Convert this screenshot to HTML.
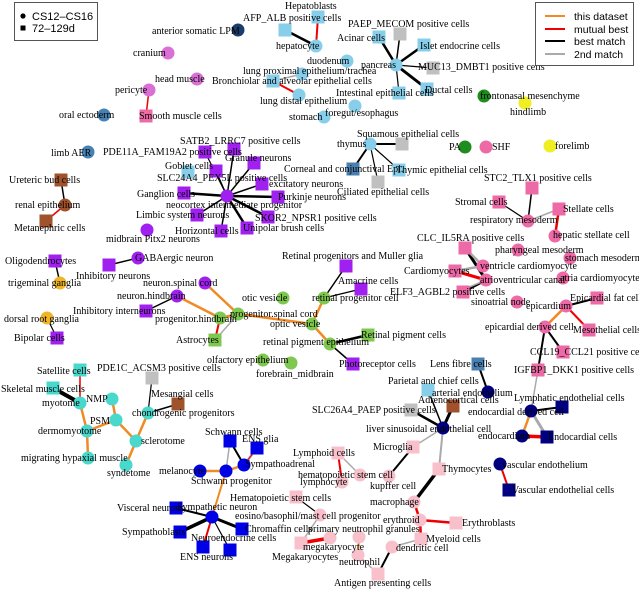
<!DOCTYPE html>
<html><head><meta charset="utf-8"><style>
html,body{margin:0;padding:0;background:#fff;}
svg{display:block;font-family:"Liberation Serif",serif;font-size:10px;}
.l{font-family:"Liberation Sans",sans-serif;font-size:11px;}
.r{font-family:"Liberation Sans",sans-serif;font-size:10.5px;}
</style></head><body>
<svg width="639" height="590" viewBox="0 0 639 590" xmlns="http://www.w3.org/2000/svg">
<g stroke-linecap="round" fill="none">
<line x1="316" y1="46" x2="285" y2="30" stroke="#000" stroke-width="2.5"/>
<line x1="316" y1="46" x2="318" y2="17" stroke="#e00" stroke-width="2"/>
<line x1="273" y1="81" x2="302" y2="74" stroke="#aaa" stroke-width="1.5"/>
<line x1="273" y1="81" x2="299" y2="95" stroke="#e00" stroke-width="2"/>
<line x1="396" y1="65" x2="379" y2="37" stroke="#000" stroke-width="2.5"/>
<line x1="396" y1="65" x2="400" y2="34" stroke="#000" stroke-width="1.5"/>
<line x1="396" y1="65" x2="424" y2="45" stroke="#000" stroke-width="2.5"/>
<line x1="396" y1="65" x2="433" y2="68" stroke="#000" stroke-width="1.2"/>
<line x1="396" y1="65" x2="427" y2="89" stroke="#000" stroke-width="3"/>
<line x1="396" y1="65" x2="399" y2="93" stroke="#000" stroke-width="1.2"/>
<line x1="370" y1="144" x2="402" y2="144" stroke="#000" stroke-width="2"/>
<line x1="370" y1="144" x2="353" y2="169" stroke="#000" stroke-width="2"/>
<line x1="370" y1="144" x2="399" y2="170" stroke="#000" stroke-width="1.2"/>
<line x1="370" y1="144" x2="378" y2="182" stroke="#000" stroke-width="1.2"/>
<line x1="149" y1="90" x2="146" y2="116" stroke="#e00" stroke-width="1.5"/>
<line x1="61" y1="180" x2="65" y2="205" stroke="#000" stroke-width="1.5"/>
<line x1="65" y1="205" x2="46" y2="221" stroke="#e00" stroke-width="1.5"/>
<g stroke="#000">
<line x1="227" y1="196" x2="234" y2="149" stroke-width="1.5"/>
<line x1="227" y1="196" x2="205" y2="152" stroke-width="1.2"/>
<line x1="227" y1="196" x2="254" y2="163" stroke-width="1.5"/>
<line x1="227" y1="196" x2="216" y2="171" stroke-width="1.2"/>
<line x1="227" y1="196" x2="262" y2="184" stroke-width="1.5"/>
<line x1="227" y1="196" x2="184" y2="193" stroke-width="2.5"/>
<line x1="227" y1="196" x2="278" y2="197" stroke-width="2.5"/>
<line x1="227" y1="196" x2="197" y2="215" stroke-width="1.5"/>
<line x1="227" y1="196" x2="268" y2="217" stroke-width="2.5"/>
<line x1="227" y1="196" x2="221" y2="231" stroke-width="1.5"/>
<line x1="227" y1="196" x2="247" y2="228" stroke-width="2.5"/>
</g>
<line x1="55" y1="261" x2="60" y2="283" stroke="#000" stroke-width="1.5"/>
<line x1="109" y1="265" x2="138" y2="258" stroke="#000" stroke-width="1.5"/>
<line x1="47" y1="318" x2="57" y2="338" stroke="#000" stroke-width="1.2"/>
<line x1="205" y1="283" x2="238" y2="314" stroke="#f08a24" stroke-width="2.5"/>
<line x1="177" y1="296" x2="220" y2="318" stroke="#f08a24" stroke-width="2.5"/>
<line x1="177" y1="296" x2="146" y2="311" stroke="#000" stroke-width="1.5"/>
<line x1="220" y1="318" x2="238" y2="314" stroke="#f08a24" stroke-width="2.5"/>
<line x1="220" y1="318" x2="215" y2="340" stroke="#e00" stroke-width="2"/>
<line x1="238" y1="314" x2="215" y2="340" stroke="#aaa" stroke-width="1.5"/>
<line x1="238" y1="314" x2="312" y2="324" stroke="#f08a24" stroke-width="2.5"/>
<line x1="312" y1="324" x2="324" y2="298" stroke="#f08a24" stroke-width="2.5"/>
<line x1="312" y1="324" x2="330" y2="344" stroke="#f08a24" stroke-width="2.5"/>
<line x1="324" y1="298" x2="346" y2="266" stroke="#000" stroke-width="1.5"/>
<line x1="324" y1="298" x2="361" y2="289" stroke="#000" stroke-width="1.2"/>
<line x1="330" y1="344" x2="368" y2="335" stroke="#000" stroke-width="2.5"/>
<line x1="330" y1="344" x2="353" y2="364" stroke="#000" stroke-width="1.5"/>
<line x1="528" y1="221" x2="532" y2="188" stroke="#000" stroke-width="1.5"/>
<line x1="528" y1="221" x2="499" y2="202" stroke="#000" stroke-width="1.2"/>
<line x1="528" y1="221" x2="559" y2="209" stroke="#aaa" stroke-width="1.5"/>
<line x1="559" y1="209" x2="555" y2="236" stroke="#e00" stroke-width="2.5"/>
<line x1="465" y1="248" x2="486" y2="280" stroke="#000" stroke-width="3"/>
<line x1="465" y1="248" x2="483" y2="266" stroke="#aaa" stroke-width="2.5"/>
<line x1="455" y1="271" x2="483" y2="266" stroke="#aaa" stroke-width="2.5"/>
<line x1="455" y1="271" x2="486" y2="280" stroke="#e00" stroke-width="3"/>
<line x1="463" y1="292" x2="486" y2="280" stroke="#000" stroke-width="2.5"/>
<line x1="467" y1="288" x2="486" y2="280" stroke="#aaa" stroke-width="1.5"/>
<line x1="566" y1="306" x2="597" y2="298" stroke="#000" stroke-width="2"/>
<line x1="566" y1="306" x2="589" y2="330" stroke="#e00" stroke-width="2"/>
<line x1="566" y1="306" x2="545" y2="327" stroke="#f08a24" stroke-width="2.5"/>
<line x1="545" y1="327" x2="563" y2="352" stroke="#000" stroke-width="2"/>
<line x1="545" y1="327" x2="538" y2="370" stroke="#000" stroke-width="2"/>
<line x1="538" y1="370" x2="531" y2="411" stroke="#aaa" stroke-width="1.5"/>
<line x1="531" y1="411" x2="562" y2="407" stroke="#000" stroke-width="2"/>
<line x1="531" y1="411" x2="522" y2="436" stroke="#f08a24" stroke-width="2.5"/>
<line x1="531" y1="411" x2="547" y2="437" stroke="#aaa" stroke-width="3"/>
<line x1="522" y1="436" x2="547" y2="437" stroke="#e00" stroke-width="3.5"/>
<line x1="500" y1="464" x2="509" y2="490" stroke="#e00" stroke-width="2"/>
<line x1="478" y1="364" x2="488" y2="392" stroke="#000" stroke-width="2"/>
<line x1="443" y1="428" x2="428" y2="390" stroke="#000" stroke-width="1.5"/>
<line x1="443" y1="428" x2="453" y2="406" stroke="#000" stroke-width="3"/>
<line x1="443" y1="428" x2="411" y2="410" stroke="#000" stroke-width="2.5"/>
<line x1="443" y1="428" x2="413" y2="447" stroke="#aaa" stroke-width="1.5"/>
<line x1="443" y1="428" x2="439" y2="469" stroke="#aaa" stroke-width="2"/>
<line x1="413" y1="447" x2="389" y2="476" stroke="#000" stroke-width="2"/>
<line x1="439" y1="469" x2="414" y2="502" stroke="#000" stroke-width="3.5"/>
<line x1="414" y1="502" x2="420" y2="520" stroke="#e00" stroke-width="2.5"/>
<line x1="420" y1="520" x2="456" y2="523" stroke="#e00" stroke-width="2.5"/>
<line x1="420" y1="520" x2="421" y2="539" stroke="#e00" stroke-width="2.5"/>
<line x1="421" y1="539" x2="392" y2="547" stroke="#aaa" stroke-width="1.5"/>
<line x1="392" y1="547" x2="378" y2="574" stroke="#000" stroke-width="2"/>
<line x1="358" y1="555" x2="378" y2="574" stroke="#aaa" stroke-width="1.5"/>
<line x1="359" y1="537" x2="358" y2="555" stroke="#f08a24" stroke-width="2"/>
<line x1="301" y1="543" x2="330" y2="538" stroke="#e00" stroke-width="3.5"/>
<line x1="296" y1="497" x2="320" y2="515" stroke="#000" stroke-width="1.2"/>
<line x1="320" y1="515" x2="301" y2="543" stroke="#aaa" stroke-width="1.5"/>
<line x1="338" y1="453" x2="342" y2="482" stroke="#e00" stroke-width="2"/>
<line x1="338" y1="453" x2="360" y2="475" stroke="#aaa" stroke-width="1.5"/>
<line x1="80" y1="370" x2="80" y2="403" stroke="#e00" stroke-width="1.5"/>
<line x1="53" y1="388" x2="80" y2="403" stroke="#000" stroke-width="4"/>
<g stroke="#f08a24" stroke-width="2.5">
<line x1="80" y1="403" x2="87" y2="431"/>
<line x1="112" y1="399" x2="116" y2="420"/>
<line x1="116" y1="420" x2="87" y2="431"/>
<line x1="87" y1="431" x2="88" y2="458"/>
<line x1="116" y1="420" x2="136" y2="441"/>
<line x1="136" y1="441" x2="126" y2="465"/>
<line x1="136" y1="441" x2="148" y2="413"/>
</g>
<line x1="148" y1="413" x2="152" y2="378" stroke="#000" stroke-width="1.2"/>
<line x1="148" y1="413" x2="178" y2="404" stroke="#000" stroke-width="1.5"/>
<line x1="230" y1="441" x2="226" y2="471" stroke="#aaa" stroke-width="1.5"/>
<line x1="230" y1="441" x2="244" y2="465" stroke="#000" stroke-width="2"/>
<line x1="257" y1="448" x2="244" y2="465" stroke="#aaa" stroke-width="2.5"/>
<line x1="257" y1="448" x2="244" y2="465" stroke="#e00" stroke-width="1"/>
<line x1="200" y1="471" x2="226" y2="471" stroke="#f08a24" stroke-width="2.5"/>
<line x1="226" y1="471" x2="244" y2="465" stroke="#f08a24" stroke-width="2.5"/>
<line x1="226" y1="471" x2="212" y2="517" stroke="#f08a24" stroke-width="2"/>
<line x1="212" y1="517" x2="176" y2="508" stroke="#000" stroke-width="2"/>
<line x1="212" y1="517" x2="180" y2="532" stroke="#000" stroke-width="3.5"/>
<line x1="212" y1="517" x2="242" y2="529" stroke="#000" stroke-width="3"/>
<line x1="212" y1="517" x2="230" y2="550" stroke="#000" stroke-width="1.2"/>
<line x1="212" y1="517" x2="203" y2="547" stroke="#e00" stroke-width="2"/>
</g>

<g>
<circle cx="238" cy="30" r="6.5" fill="#1c3c6b"/>
<circle cx="168" cy="53" r="6.5" fill="#da70d6"/>
<circle cx="197" cy="79" r="6.5" fill="#da70d6"/>
<circle cx="149" cy="90" r="6.5" fill="#da70d6"/>
<circle cx="104" cy="115" r="6.5" fill="#4682b4"/>
<circle cx="88" cy="152" r="6.5" fill="#4682b4"/>
<circle cx="65" cy="205" r="6.5" fill="#a0522d"/>
<circle cx="316" cy="46" r="6.5" fill="#87ceeb"/>
<circle cx="347" cy="61" r="6.5" fill="#87ceeb"/>
<circle cx="302" cy="74" r="6.5" fill="#87ceeb"/>
<circle cx="299" cy="95" r="6.5" fill="#87ceeb"/>
<circle cx="324" cy="117" r="6.5" fill="#87ceeb"/>
<circle cx="355" cy="106" r="6.5" fill="#87ceeb"/>
<circle cx="396" cy="65" r="6.5" fill="#87ceeb"/>
<circle cx="370" cy="144" r="6.5" fill="#87ceeb"/>
<circle cx="484" cy="96" r="6.5" fill="#1e8c1e"/>
<circle cx="465" cy="147" r="6.5" fill="#1e8c1e"/>
<circle cx="525" cy="103" r="6.5" fill="#eeee22"/>
<circle cx="550" cy="146" r="6.5" fill="#eeee22"/>
<circle cx="486" cy="147" r="6.5" fill="#ee6aa7"/>
<circle cx="227" cy="196" r="6.5" fill="#a020f0"/>
<circle cx="147" cy="230" r="6.5" fill="#a020f0"/>
<circle cx="138" cy="258" r="6.5" fill="#a020f0"/>
<circle cx="205" cy="283" r="6.5" fill="#a020f0"/>
<circle cx="177" cy="296" r="6.5" fill="#a020f0"/>
<circle cx="60" cy="283" r="6.5" fill="#f0b429"/>
<circle cx="47" cy="318" r="6.5" fill="#f0b429"/>
<circle cx="220" cy="318" r="6.5" fill="#7ec850"/>
<circle cx="238" cy="314" r="6.5" fill="#7ec850"/>
<circle cx="283" cy="298" r="6.5" fill="#7ec850"/>
<circle cx="312" cy="324" r="6.5" fill="#7ec850"/>
<circle cx="324" cy="298" r="6.5" fill="#7ec850"/>
<circle cx="330" cy="344" r="6.5" fill="#7ec850"/>
<circle cx="263" cy="360" r="6.5" fill="#7ec850"/>
<circle cx="291" cy="363" r="6.5" fill="#7ec850"/>
<circle cx="528" cy="221" r="6.5" fill="#ee6aa7"/>
<circle cx="555" cy="236" r="6.5" fill="#ee6aa7"/>
<circle cx="518" cy="250" r="6.5" fill="#ee6aa7"/>
<circle cx="570" cy="258" r="6.5" fill="#ee6aa7"/>
<circle cx="483" cy="266" r="6.5" fill="#ee6aa7"/>
<circle cx="486" cy="280" r="6.5" fill="#ee6aa7"/>
<circle cx="563" cy="278" r="6.5" fill="#ee6aa7"/>
<circle cx="517" cy="302" r="6.5" fill="#ee6aa7"/>
<circle cx="566" cy="306" r="6.5" fill="#ee6aa7"/>
<circle cx="545" cy="327" r="6.5" fill="#ee6aa7"/>
<circle cx="488" cy="392" r="6.5" fill="#000080"/>
<circle cx="443" cy="428" r="6.5" fill="#000080"/>
<circle cx="531" cy="411" r="6.5" fill="#000080"/>
<circle cx="522" cy="436" r="6.5" fill="#000080"/>
<circle cx="500" cy="464" r="6.5" fill="#000080"/>
<circle cx="389" cy="476" r="6.5" fill="#f8c0cb"/>
<circle cx="414" cy="502" r="6.5" fill="#f8c0cb"/>
<circle cx="420" cy="520" r="6.5" fill="#f8c0cb"/>
<circle cx="392" cy="547" r="6.5" fill="#f8c0cb"/>
<circle cx="358" cy="555" r="6.5" fill="#f8c0cb"/>
<circle cx="359" cy="537" r="6.5" fill="#f8c0cb"/>
<circle cx="330" cy="538" r="6.5" fill="#f8c0cb"/>
<circle cx="320" cy="515" r="6.5" fill="#f8c0cb"/>
<circle cx="360" cy="475" r="6.5" fill="#f8c0cb"/>
<circle cx="342" cy="482" r="6.5" fill="#f8c0cb"/>
<circle cx="80" cy="403" r="6.5" fill="#48d8cc"/>
<circle cx="112" cy="399" r="6.5" fill="#48d8cc"/>
<circle cx="116" cy="420" r="6.5" fill="#48d8cc"/>
<circle cx="87" cy="431" r="6.5" fill="#48d8cc"/>
<circle cx="88" cy="458" r="6.5" fill="#48d8cc"/>
<circle cx="136" cy="441" r="6.5" fill="#48d8cc"/>
<circle cx="126" cy="465" r="6.5" fill="#48d8cc"/>
<circle cx="148" cy="413" r="6.5" fill="#48d8cc"/>
<circle cx="244" cy="465" r="6.5" fill="#0000e6"/>
<circle cx="200" cy="471" r="6.5" fill="#0000e6"/>
<circle cx="226" cy="471" r="6.5" fill="#0000e6"/>
<circle cx="212" cy="517" r="6.5" fill="#0000e6"/>
</g>
<g>
<rect x="278.5" y="23.5" width="13" height="13" fill="#87ceeb"/>
<rect x="311.5" y="10.5" width="13" height="13" fill="#87ceeb"/>
<rect x="266.5" y="74.5" width="13" height="13" fill="#87ceeb"/>
<rect x="372.5" y="30.5" width="13" height="13" fill="#87ceeb"/>
<rect x="393.5" y="27.5" width="13" height="13" fill="#c0c0c0"/>
<rect x="417.5" y="38.5" width="13" height="13" fill="#87ceeb"/>
<rect x="426.5" y="61.5" width="13" height="13" fill="#c0c0c0"/>
<rect x="420.5" y="82.5" width="13" height="13" fill="#87ceeb"/>
<rect x="392.5" y="86.5" width="13" height="13" fill="#87ceeb"/>
<rect x="395.5" y="137.5" width="13" height="13" fill="#c0c0c0"/>
<rect x="346.5" y="162.5" width="13" height="13" fill="#4a7fb0"/>
<rect x="392.5" y="163.5" width="13" height="13" fill="#87ceeb"/>
<rect x="371.5" y="175.5" width="13" height="13" fill="#c0c0c0"/>
<rect x="139.5" y="109.5" width="13" height="13" fill="#ee6aa7"/>
<rect x="54.5" y="173.5" width="13" height="13" fill="#a0522d"/>
<rect x="39.5" y="214.5" width="13" height="13" fill="#a0522d"/>
<rect x="227.5" y="142.5" width="13" height="13" fill="#a020f0"/>
<rect x="198.5" y="145.5" width="13" height="13" fill="#a020f0"/>
<rect x="247.5" y="156.5" width="13" height="13" fill="#a020f0"/>
<rect x="181.5" y="165.5" width="13" height="13" fill="#87ceeb"/>
<rect x="209.5" y="164.5" width="13" height="13" fill="#a020f0"/>
<rect x="255.5" y="177.5" width="13" height="13" fill="#a020f0"/>
<rect x="177.5" y="186.5" width="13" height="13" fill="#a020f0"/>
<rect x="271.5" y="190.5" width="13" height="13" fill="#a020f0"/>
<rect x="190.5" y="208.5" width="13" height="13" fill="#a020f0"/>
<rect x="261.5" y="210.5" width="13" height="13" fill="#a020f0"/>
<rect x="214.5" y="224.5" width="13" height="13" fill="#a020f0"/>
<rect x="240.5" y="221.5" width="13" height="13" fill="#a020f0"/>
<rect x="48.5" y="254.5" width="13" height="13" fill="#a020f0"/>
<rect x="102.5" y="258.5" width="13" height="13" fill="#a020f0"/>
<rect x="139.5" y="304.5" width="13" height="13" fill="#a020f0"/>
<rect x="50.5" y="331.5" width="13" height="13" fill="#a020f0"/>
<rect x="208.5" y="333.5" width="13" height="13" fill="#7ec850"/>
<rect x="339.5" y="259.5" width="13" height="13" fill="#a020f0"/>
<rect x="354.5" y="282.5" width="13" height="13" fill="#a020f0"/>
<rect x="361.5" y="328.5" width="13" height="13" fill="#7ec850"/>
<rect x="346.5" y="357.5" width="13" height="13" fill="#a020f0"/>
<rect x="525.5" y="181.5" width="13" height="13" fill="#ee6aa7"/>
<rect x="492.5" y="195.5" width="13" height="13" fill="#ee6aa7"/>
<rect x="552.5" y="202.5" width="13" height="13" fill="#ee6aa7"/>
<rect x="458.5" y="241.5" width="13" height="13" fill="#ee6aa7"/>
<rect x="448.5" y="264.5" width="13" height="13" fill="#ee6aa7"/>
<rect x="456.5" y="285.5" width="13" height="13" fill="#ee6aa7"/>
<rect x="590.5" y="291.5" width="13" height="13" fill="#ee6aa7"/>
<rect x="582.5" y="323.5" width="13" height="13" fill="#ee6aa7"/>
<rect x="556.5" y="345.5" width="13" height="13" fill="#ee6aa7"/>
<rect x="531.5" y="363.5" width="13" height="13" fill="#ee6aa7"/>
<rect x="471.5" y="357.5" width="13" height="13" fill="#4a7fb0"/>
<rect x="421.5" y="383.5" width="13" height="13" fill="#87ceeb"/>
<rect x="446.5" y="399.5" width="13" height="13" fill="#a0522d"/>
<rect x="404.5" y="403.5" width="13" height="13" fill="#c0c0c0"/>
<rect x="555.5" y="400.5" width="13" height="13" fill="#000080"/>
<rect x="540.5" y="430.5" width="13" height="13" fill="#000080"/>
<rect x="502.5" y="483.5" width="13" height="13" fill="#000080"/>
<rect x="406.5" y="440.5" width="13" height="13" fill="#f8c0cb"/>
<rect x="432.5" y="462.5" width="13" height="13" fill="#f8c0cb"/>
<rect x="449.5" y="516.5" width="13" height="13" fill="#f8c0cb"/>
<rect x="414.5" y="532.5" width="13" height="13" fill="#f8c0cb"/>
<rect x="371.5" y="567.5" width="13" height="13" fill="#f8c0cb"/>
<rect x="294.5" y="536.5" width="13" height="13" fill="#f8c0cb"/>
<rect x="289.5" y="490.5" width="13" height="13" fill="#f8c0cb"/>
<rect x="331.5" y="446.5" width="13" height="13" fill="#f8c0cb"/>
<rect x="73.5" y="363.5" width="13" height="13" fill="#48d8cc"/>
<rect x="46.5" y="381.5" width="13" height="13" fill="#48d8cc"/>
<rect x="145.5" y="371.5" width="13" height="13" fill="#c0c0c0"/>
<rect x="171.5" y="397.5" width="13" height="13" fill="#a0522d"/>
<rect x="223.5" y="434.5" width="13" height="13" fill="#0000e6"/>
<rect x="250.5" y="441.5" width="13" height="13" fill="#0000e6"/>
<rect x="169.5" y="501.5" width="13" height="13" fill="#0000e6"/>
<rect x="173.5" y="525.5" width="13" height="13" fill="#0000e6"/>
<rect x="235.5" y="522.5" width="13" height="13" fill="#0000e6"/>
<rect x="223.5" y="543.5" width="13" height="13" fill="#0000e6"/>
<rect x="196.5" y="540.5" width="13" height="13" fill="#0000e6"/>
</g>

<g fill="#000">
<text x="152" y="34">anterior somatic LPM</text>
<text x="243" y="21">AFP_ALB positive cells</text>
<text x="285" y="9">Hepatoblasts</text>
<text x="276" y="49">hepatocyte</text>
<text x="307" y="64">duodenum</text>
<text x="243" y="74">lung proximal epithelium/trachea</text>
<text x="212" y="84">Bronchiolar and alveolar epithelial cells</text>
<text x="260" y="104">lung distal epithelium</text>
<text x="289" y="120">stomach</text>
<text x="325" y="116">foregut/esophagus</text>
<text x="361" y="68">pancreas</text>
<text x="337" y="41">Acinar cells</text>
<text x="348" y="27">PAEP_MECOM positive cells</text>
<text x="420" y="49">Islet endocrine cells</text>
<text x="418" y="70">MUC13_DMBT1 positive cells</text>
<text x="425" y="93">Ductal cells</text>
<text x="336" y="96">Intestinal epithelial cells</text>
<text x="480" y="99">frontonasal mesenchyme</text>
<text x="510" y="115">hindlimb</text>
<text x="337" y="147">thymus</text>
<text x="357" y="137">Squamous epithelial cells</text>
<text x="284" y="172">Corneal and conjunctival Epi.</text>
<text x="396" y="173">Thymic epithelial cells</text>
<text x="337" y="195">Ciliated epithelial cells</text>
<text x="449" y="150">PA</text>
<text x="492" y="150">SHF</text>
<text x="555" y="149">forelimb</text>
<text x="133" y="56">cranium</text>
<text x="155" y="82">head muscle</text>
<text x="115" y="93">pericyte</text>
<text x="139" y="119">Smooth muscle cells</text>
<text x="59" y="118">oral ectoderm</text>
<text x="51" y="156">limb AER</text>
<text x="9" y="183">Ureteric bud cells</text>
<text x="15" y="208">renal epithelium</text>
<text x="14" y="231">Metanephric cells</text>
<text x="180" y="144">SATB2_LRRC7 positive cells</text>
<text x="103" y="155">PDE11A_FAM19A2 positive cells</text>
<text x="225" y="161">Granule neurons</text>
<text x="165" y="169">Goblet cells</text>
<text x="157" y="181">SLC24A4_PEX5L positive cells</text>
<text x="269" y="187">excitatory neurons</text>
<text x="137" y="197">Ganglion cells</text>
<text x="278" y="200">Purkinje neurons</text>
<text x="166" y="208">neocortex intermediate progenitor</text>
<text x="136" y="218">Limbic system neurons</text>
<text x="255" y="221">SKOR2_NPSR1 positive cells</text>
<text x="175" y="234">Horizontal cells</text>
<text x="243" y="231">Unipolar brush cells</text>
<text x="106" y="242">midbrain Pitx2 neurons</text>
<text x="5" y="264">Oligodendrocytes</text>
<text x="8" y="286">trigeminal ganglia</text>
<text x="76" y="279">Inhibitory neurons</text>
<text x="135" y="261">GABAergic neuron</text>
<text x="143" y="286">neuron.spinal cord</text>
<text x="117" y="299">neuron.hindbrain</text>
<text x="73" y="314">Inhibitory interneurons</text>
<text x="155" y="322">progenitor.hindbrain</text>
<text x="230" y="317">progenitor.spinal cord</text>
<text x="176" y="343">Astrocytes</text>
<text x="4" y="322">dorsal root ganglia</text>
<text x="14" y="341">Bipolar cells</text>
<text x="242" y="301">otic vesicle</text>
<text x="270" y="327">optic vesicle</text>
<text x="312" y="301">retinal progenitor cell</text>
<text x="282" y="259">Retinal progenitors and Muller glia</text>
<text x="338" y="284">Amacrine cells</text>
<text x="263" y="345">retinal pigment epithelium</text>
<text x="361" y="338">Retinal pigment cells</text>
<text x="339" y="367">Photoreceptor cells</text>
<text x="207" y="363">olfactory epithelium</text>
<text x="256" y="377">forebrain_midbrain</text>
<text x="484" y="181">STC2_TLX1 positive cells</text>
<text x="455" y="205">Stromal cells</text>
<text x="470" y="223">respiratory mesoderm</text>
<text x="563" y="212">Stellate cells</text>
<text x="553" y="238">hepatic stellate cell</text>
<text x="417" y="241">CLC_IL5RA positive cells</text>
<text x="495" y="253">pharyngeal mesoderm</text>
<text x="565" y="261">stomach mesoderm</text>
<text x="480" y="269">ventricle cardiomyocyte</text>
<text x="404" y="274">Cardiomyocytes</text>
<text x="480" y="283">atrioventricular canal</text>
<text x="560" y="281">atria cardiomyocyte</text>
<text x="390" y="295">ELF3_AGBL2 positive cells</text>
<text x="471" y="305">sinoatrial node</text>
<text x="570" y="301">Epicardial fat cells</text>
<text x="526" y="309">epicardium</text>
<text x="485" y="330">epicardial derived cell</text>
<text x="573" y="333">Mesothelial cells</text>
<text x="530" y="355">CCL19_CCL21 positive cells</text>
<text x="514" y="373">IGFBP1_DKK1 positive cells</text>
<text x="430" y="367">Lens fibre cells</text>
<text x="388" y="384">Parietal and chief cells</text>
<text x="432" y="396">arterial endothelium</text>
<text x="418" y="403">Adrenocortical cells</text>
<text x="312" y="413">SLC26A4_PAEP positive cells</text>
<text x="366" y="432">liver sinusoidal endothelial cell</text>
<text x="514" y="401">Lymphatic endothelial cells</text>
<text x="468" y="415">endocardial derived cell</text>
<text x="478" y="439">endocardium</text>
<text x="548" y="440">Endocardial cells</text>
<text x="502" y="468">vascular endothelium</text>
<text x="512" y="493">Vascular endothelial cells</text>
<text x="373" y="450">Microglia</text>
<text x="370" y="489">kupffer cell</text>
<text x="442" y="472">Thymocytes</text>
<text x="370" y="505">macrophage</text>
<text x="383" y="523">erythroid</text>
<text x="462" y="526">Erythroblasts</text>
<text x="426" y="542">Myeloid cells</text>
<text x="396" y="551">dendritic cell</text>
<text x="334" y="586">Antigen presenting cells</text>
<text x="339" y="565">neutrophil</text>
<text x="308" y="532">primary neutrophil granules</text>
<text x="303" y="550">megakaryocyte</text>
<text x="272" y="560">Megakaryocytes</text>
<text x="230" y="501">Hematopoietic stem cells</text>
<text x="235" y="519">eosino/basophil/mast cell progenitor</text>
<text x="293" y="456">Lymphoid cells</text>
<text x="298" y="478">hematopoietic stem cell</text>
<text x="300" y="485">lymphocyte</text>
<text x="37" y="374">Satellite cells</text>
<text x="1" y="392">Skeletal muscle cells</text>
<text x="42" y="406">myotome</text>
<text x="86" y="402">NMP</text>
<text x="90" y="424">PSM</text>
<text x="38" y="434">dermomyotome</text>
<text x="21" y="461">migrating hypaxial muscle</text>
<text x="141" y="444">sclerotome</text>
<text x="107" y="476">syndetome</text>
<text x="97" y="371">PDE1C_ACSM3 positive cells</text>
<text x="151" y="397">Mesangial cells</text>
<text x="132" y="416">chondrogenic progenitors</text>
<text x="205" y="435">Schwann cells</text>
<text x="242" y="442">ENS glia</text>
<text x="245" y="467">Sympathoadrenal</text>
<text x="159" y="474">melanocyte</text>
<text x="191" y="484">Schwann progenitor</text>
<text x="177" y="510">Sympathetic neuron</text>
<text x="117" y="511">Visceral neurons</text>
<text x="122" y="535">Sympathoblasts</text>
<text x="245" y="532">Chromaffin cells</text>
<text x="191" y="541">Neuroendocrine cells</text>
<text x="180" y="560">ENS neurons</text>
</g>

<rect x="14.5" y="2.5" width="83" height="38" fill="#fff" stroke="#555" stroke-width="1"/>
<circle cx="23" cy="16" r="2.6" fill="#000"/>
<text class="l" x="32" y="20">CS12–CS16</text>
<rect x="20.5" y="25.5" width="5" height="5" fill="#000"/>
<text class="l" x="32" y="32">72–129d</text>
<rect x="535.5" y="2.5" width="98" height="63" fill="#fff" stroke="#555" stroke-width="1"/>
<line x1="545" y1="16" x2="565" y2="16" stroke="#f08a24" stroke-width="2"/>
<line x1="545" y1="29" x2="565" y2="29" stroke="#e00" stroke-width="2"/>
<line x1="545" y1="41" x2="565" y2="41" stroke="#000" stroke-width="2"/>
<line x1="545" y1="54" x2="565" y2="54" stroke="#aaa" stroke-width="2"/>
<text class="r" x="574" y="20">this dataset</text>
<text class="r" x="574" y="33">mutual best</text>
<text class="r" x="574" y="45">best match</text>
<text class="r" x="574" y="58">2nd match</text>
</svg>
</body></html>
